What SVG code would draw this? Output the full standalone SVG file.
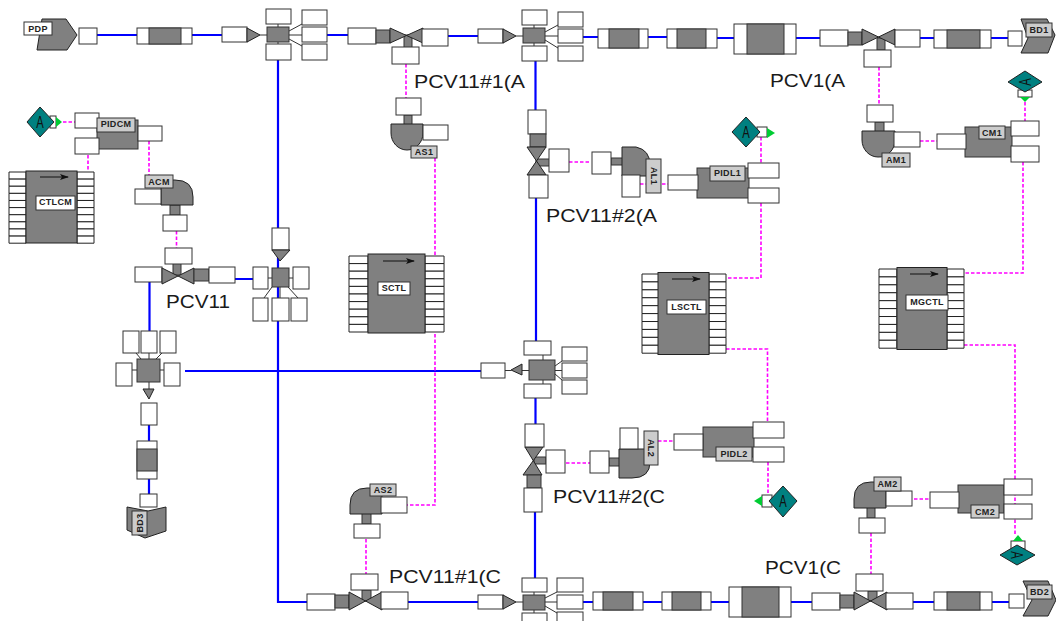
<svg xmlns="http://www.w3.org/2000/svg" xmlns:xlink="http://www.w3.org/1999/xlink" width="1056" height="621" viewBox="0 0 1056 621">
<style>
.w{fill:#fff;stroke:#333;stroke-width:1}
.g{fill:#808080;stroke:#333;stroke-width:1}
.d{fill:#808080;stroke:#222;stroke-width:1}
.l{fill:#ccc;stroke:#333;stroke-width:1}
.p{fill:#fff;stroke:#222;stroke-width:1;vector-effect:non-scaling-stroke}
.b{fill:none;stroke:#0000ff;stroke-width:2.200}
.m{fill:none;stroke:#ff00ff;stroke-width:1.600;stroke-dasharray:3.5 2}
.k{fill:none;stroke:#333;stroke-width:1}
.t{font:bold 9px "Liberation Sans",Arial,sans-serif;letter-spacing:.3px;fill:#222;text-anchor:middle}
.n{font:19px "Liberation Sans",Arial,sans-serif;fill:#1a1a1a}
.a{font:15px "Liberation Sans",Arial,sans-serif;fill:#111;text-anchor:middle}
.dm{fill:#008080;stroke:#222;stroke-width:1}
.gr{fill:#00cc33;stroke:none}
.ar{fill:none;stroke:#111;stroke-width:1}
</style>
<defs>
<g id="pins">
<rect class="p" x="0" y="0" width="17" height="8"/><rect class="p" x="0" y="8" width="17" height="8"/><rect class="p" x="0" y="16" width="17" height="8"/><rect class="p" x="0" y="24" width="17" height="8"/><rect class="p" x="0" y="32" width="17" height="8"/><rect class="p" x="0" y="40" width="17" height="8"/><rect class="p" x="0" y="48" width="17" height="8"/><rect class="p" x="0" y="56" width="17" height="8"/><rect class="p" x="0" y="64" width="17" height="8"/><rect class="p" x="0" y="72" width="17" height="8"/>
</g>
<marker id="ah" markerWidth="9" markerHeight="6" refX="8" refY="3" orient="auto" markerUnits="userSpaceOnUse"><path d="M0,0 L9,3 L0,6 L2,3Z" fill="#111"/></marker>
</defs>

<g id="connectors">
<path class="b" d="M97,35H137M192,35H222M327,35H349M448,36H478M583,37H598M648,37H667M717,38H734M796,38H820M920,38H934M991,38H1008"/>
<path class="b" d="M278,60V602H307M408,602H478M583,602H593M643,602H662M711,602H729M791,602H812M913,602H934M992,602H1009"/>
<path class="b" d="M535.500,61V110M536,198V341M535.500,398V424M535,512V578"/>
<path class="b" d="M185,371H481M235,279H253M149.500,282V331M149,425V441M149,479V494"/>
<path class="m" d="M406,64V98M435,158V505H407M366,539V574M879,67V105M920,141H937M569,162H591M640,184H668M658,441H674M566,463H590M761,137V163M761,203V278H726M726,349H767.500V422M768,462V494M1025,102V121M1023,162V273H964M964,345H1015V535M914,499H930M871,533V574M176.500,231V248M149,141V175M88,155V171M63,122H75"/>
</g>

<g id="PDP">
<polygon class="d" points="42,19 66,19 77,35 67,50 37,50"/>
<rect class="l" x="24" y="22" width="28" height="13" style="fill:#fff"/><text class="t" x="38" y="31.500">PDP</text>
<rect class="w" x="79" y="28" width="18" height="16"/>
</g>
<g id="pipe-t1"><rect class="w" x="137" y="28" width="55" height="16"/><rect class="g" x="149" y="28" width="32" height="16"/></g>
<g id="hub-t1">
<path class="k" d="M278,24V44M289,31L302,24M260,35H302M289,39L302,46"/>
<rect class="w" x="222" y="27" width="25" height="15"/><polygon class="d" points="247,28 260,35 247,42"/>
<rect class="g" x="267" y="27" width="22" height="15"/>
<rect class="w" x="266" y="9" width="25" height="15"/><rect class="w" x="266" y="44" width="25" height="16"/>
<rect class="w" x="302" y="10" width="25" height="15"/><rect class="w" x="302" y="27" width="25" height="15"/><rect class="w" x="302" y="44" width="25" height="16"/>
</g>
<g id="valve-pcv11-1a">
<rect class="w" x="348" y="28" width="28" height="16"/><rect class="g" x="376" y="30" width="14" height="13"/>
<rect class="g" x="404" y="35" width="8" height="13"/>
<polygon class="d" points="390,28 423,43 423,28 390,43"/>
<rect class="w" x="392" y="47" width="27" height="17"/><rect class="w" x="422" y="29" width="26" height="17"/>
<text class="n" x="414" y="88" textLength="111" lengthAdjust="spacingAndGlyphs">PCV11#1(A</text>
</g>
<g id="hub-t2">
<path class="k" d="M534,25V46M545,32L558,25M516,36H558M545,40L558,48"/>
<rect class="w" x="478" y="29" width="25" height="14"/><polygon class="d" points="503,29 516,36 503,43"/>
<rect class="g" x="523" y="28" width="22" height="15"/>
<rect class="w" x="522" y="10" width="25" height="15"/><rect class="w" x="522" y="46" width="25" height="15"/>
<rect class="w" x="558" y="12" width="25" height="15"/><rect class="w" x="558" y="29" width="25" height="14"/><rect class="w" x="558" y="46" width="25" height="15"/>
</g>
<g id="pipe-t2"><rect class="w" x="598" y="29" width="50" height="19"/><rect class="g" x="609" y="29" width="30" height="19"/></g>
<g id="pipe-t3"><rect class="w" x="667" y="29" width="50" height="19"/><rect class="g" x="677" y="29" width="29" height="19"/></g>
<g id="pipe-t4"><rect class="w" x="734" y="24" width="62" height="30"/><rect class="g" x="747" y="24" width="37" height="30"/></g>
<g id="valve-pcv1a">
<rect class="w" x="820" y="30" width="28" height="16"/><rect class="g" x="848" y="32" width="14" height="13"/>
<rect class="g" x="877" y="38" width="8" height="12"/>
<polygon class="d" points="862,29 895,45 895,29 862,45"/>
<rect class="w" x="864" y="50" width="27" height="17"/><rect class="w" x="895" y="30" width="25" height="17"/>
<text class="n" x="770" y="87" textLength="75" lengthAdjust="spacingAndGlyphs">PCV1(A</text>
</g>
<g id="pipe-t5"><rect class="w" x="934" y="30" width="57" height="18"/><rect class="g" x="947" y="30" width="33" height="18"/></g>
<g id="BD1">
<polygon class="d" points="1021,19 1047,19 1055,35 1048,53 1021,53 1028,38"/>
<rect class="w" x="1008" y="31" width="14" height="15"/>
<rect class="l" x="1026" y="23" width="26" height="14"/><text class="t" x="1039" y="32.500">BD1</text>
</g>

<g id="PIDCM">
<rect class="g" x="97" y="120" width="41" height="29"/>
<rect class="w" x="75" y="113" width="24" height="15"/><rect class="w" x="75" y="138" width="24" height="16"/><rect class="w" x="138" y="126" width="24" height="15"/>
<rect class="l" x="97" y="118" width="38" height="14"/><text class="t" x="116" y="126.500">PIDCM</text>
</g>
<g id="alarm-cm">
<rect class="w" x="50" y="116" width="6" height="12"/><polygon class="gr" points="56,117 56,127 62,122"/>
<polygon class="dm" points="40,107 54,122 40,137 27,122"/><text class="a" transform="translate(40,128) scale(.75,1.100)">A</text>
</g>
<g id="CTLCM">
<use xlink:href="#pins" href="#pins" transform="translate(9,172) scale(1,.89)"/><use xlink:href="#pins" href="#pins" transform="translate(77,172) scale(1,.89)"/>
<rect class="d" x="26" y="171" width="51" height="72"/>
<path class="ar" d="M40,177H68" marker-end="url(#ah)"/>
<rect class="w" x="36" y="196" width="39" height="14"/><text class="t" x="55.500" y="205">CTLCM</text>
</g>
<g id="ACM">
<rect class="g" x="170" y="205" width="10" height="10"/>
<path class="d" d="M161,205V180H175Q193,180 193,197V205Z"/>
<rect class="w" x="135" y="189" width="26" height="15"/><rect class="w" x="163" y="215" width="24" height="16"/>
<rect class="l" x="145" y="175" width="28" height="13"/><text class="t" x="159" y="184.500">ACM</text>
</g>
<g id="AS1">
<rect class="g" x="404" y="115" width="8" height="12"/>
<path class="d" d="M391,124H423V133A16,17 0 0 1 407,150A16,17 0 0 1 391,133Z"/>
<rect class="w" x="396" y="98" width="25" height="17"/><rect class="w" x="423" y="125" width="25" height="15"/>
<rect class="l" x="411" y="146" width="26" height="12"/><text class="t" x="424" y="155">AS1</text>
</g>
<g id="valve-pcv11-2a">
<rect class="w" x="528" y="110" width="18" height="24"/><rect class="g" x="530" y="134" width="16" height="13"/>
<rect class="g" x="536" y="159" width="14" height="7"/>
<polygon class="d" points="527,147 546,147 527,175 546,175"/>
<rect class="w" x="529" y="175" width="19" height="23"/><rect class="w" x="549" y="149" width="20" height="23"/>
<text class="n" x="546" y="222" textLength="111" lengthAdjust="spacingAndGlyphs">PCV11#2(A</text>
</g>
<g id="AL1">
<rect class="g" x="611" y="158" width="13" height="7"/>
<path class="d" d="M622,147H636Q650,150 650,165V176H622Z"/>
<rect class="w" x="592" y="152" width="19" height="22"/><rect class="w" x="622" y="175" width="18" height="22"/>
<rect class="l" x="646" y="159" width="15" height="34"/><text class="t" transform="translate(650.500,176) rotate(90)">AL1</text>
</g>
<g id="PIDL1">
<rect class="g" x="697" y="168" width="52" height="30"/>
<rect class="w" x="668" y="175" width="30" height="15"/>
<rect class="w" x="748" y="163" width="31" height="15"/><rect class="w" x="748" y="188" width="31" height="15"/>
<rect class="l" x="710" y="166" width="35" height="15"/><text class="t" x="727.500" y="175.500">PIDL1</text>
</g>
<g id="alarm-l1">
<rect class="w" x="757" y="127" width="10" height="10"/><polygon class="gr" points="767,128 767,138 775,133"/>
<polygon class="dm" points="746,117 760,132 746,147 732,132"/><text class="a" transform="translate(746,138) scale(.75,1.100)">A</text>
</g>
<g id="AM1">
<rect class="g" x="875" y="122" width="9" height="12"/>
<path class="d" d="M862,131H895V140A16,17 0 0 1 878,157A16,17 0 0 1 862,140Z"/>
<rect class="w" x="867" y="105" width="26" height="17"/><rect class="w" x="894" y="132" width="26" height="15"/>
<rect class="l" x="882" y="153" width="28" height="14"/><text class="t" x="896" y="163">AM1</text>
</g>
<g id="CM1">
<rect class="g" x="965" y="127" width="47" height="30"/>
<rect class="w" x="937" y="134" width="29" height="15"/>
<rect class="w" x="1011" y="121" width="28" height="15"/><rect class="w" x="1011" y="146" width="28" height="16"/>
<rect class="l" x="979" y="126" width="26" height="13"/><text class="t" x="992" y="135.500">CM1</text>
</g>
<g id="alarm-c1">
<rect class="w" x="1018" y="90" width="14" height="7"/><polygon class="gr" points="1020,97 1030,97 1025,102"/>
<polygon class="dm" points="1025,71 1042,82 1025,92 1008,82"/><text class="a" transform="translate(1031,82) rotate(-90) scale(.75,1.100)">A</text>
</g>

<g id="valve-pcv11">
<rect class="w" x="135" y="267" width="27" height="15"/>
<rect class="g" x="173" y="262" width="8" height="13"/>
<polygon class="d" points="162,268 194,284 194,268 162,284"/>
<rect class="g" x="194" y="269" width="15" height="12"/><rect class="w" x="209" y="267" width="26" height="16"/>
<rect class="w" x="165" y="248" width="27" height="16"/>
<text class="n" x="166" y="308" textLength="64" lengthAdjust="spacingAndGlyphs">PCV11</text>
</g>
<g id="hub-c">
<path class="k" d="M268,278H293M272,287L264,298M280,287V298M288,287L298,298"/>
<rect class="w" x="272" y="228" width="17" height="22"/><polygon class="d" points="272,250 290,250 280,261"/>
<rect class="g" x="272" y="268" width="17" height="19"/>
<rect class="w" x="253" y="267" width="15" height="22"/><rect class="w" x="293" y="267" width="16" height="22"/>
<rect class="w" x="253" y="298" width="15" height="23"/><rect class="w" x="272" y="298" width="17" height="23"/><rect class="w" x="291" y="298" width="16" height="23"/>
</g>
<g id="hub-l">
<path class="k" d="M132,370H164M149,382V389M141,359L136,353M149,359V353M156,359L162,353"/>
<rect class="w" x="123" y="331" width="16" height="22"/><rect class="w" x="141" y="331" width="16" height="22"/><rect class="w" x="160" y="331" width="16" height="22"/>
<rect class="g" x="137" y="359" width="23" height="23"/>
<rect class="w" x="116" y="363" width="16" height="23"/><rect class="w" x="164" y="363" width="16" height="23"/>
<polygon class="d" points="143,389 154,389 149,399"/>
<rect class="w" x="141" y="403" width="16" height="22"/>
</g>
<g id="pipe-l"><rect class="w" x="137" y="441" width="20" height="38"/><rect class="g" x="137" y="449" width="20" height="22"/></g>
<g id="BD3">
<polygon class="d" points="127,507 148,511 166,507 166,531 145,538 127,530"/>
<rect class="w" x="140" y="494" width="17" height="13"/>
<rect class="l" x="132" y="511" width="15" height="24"/><text class="t" transform="translate(139.500,523) rotate(-90) translate(0,3)">BD3</text>
</g>
<g id="SCTL">
<use xlink:href="#pins" href="#pins" transform="translate(349,256) scale(1.120,.95)"/><use xlink:href="#pins" href="#pins" transform="translate(425,256) scale(1.120,.95)"/>
<rect class="d" x="368" y="254" width="57" height="79"/>
<path class="ar" d="M383,261H414" marker-end="url(#ah)"/>
<rect class="w" x="378" y="282" width="32" height="13"/><text class="t" x="394" y="291">SCTL</text>
</g>
<g id="hub-m">
<path class="k" d="M505,370.500H511M522,370.500H562M543,355V384M555,366L562,361M555,374L562,380"/>
<rect class="w" x="481" y="363" width="24" height="15"/><polygon class="d" points="511,370 522,364 522,375"/>
<rect class="g" x="529" y="360" width="26" height="20"/>
<rect class="w" x="524" y="341" width="27" height="14"/><rect class="w" x="524" y="384" width="27" height="14"/>
<rect class="w" x="562" y="347" width="25" height="14"/><rect class="w" x="562" y="363" width="25" height="15"/><rect class="w" x="562" y="380" width="25" height="14"/>
</g>
<g id="LSCTL">
<use xlink:href="#pins" href="#pins" transform="translate(642,274)  scale(1,.99)"/><use xlink:href="#pins" href="#pins" transform="translate(709,274) scale(1,.99)"/>
<rect class="d" x="658" y="272.500" width="51" height="82"/>
<path class="ar" d="M672,279H700" marker-end="url(#ah)"/>
<rect class="w" x="667" y="300" width="39" height="14"/><text class="t" x="686.500" y="309.500">LSCTL</text>
</g>
<g id="MGCTL">
<use xlink:href="#pins" href="#pins" transform="translate(879,269) scale(1.050,.99)"/><use xlink:href="#pins" href="#pins" transform="translate(947,269) scale(1,.99)"/>
<rect class="d" x="897" y="267.500" width="50" height="82"/>
<path class="ar" d="M910,274H938" marker-end="url(#ah)"/>
<rect class="w" x="906" y="295" width="42" height="15"/><text class="t" x="927" y="304.500">MGCTL</text>
</g>

<g id="valve-pcv11-2c">
<rect class="g" x="534" y="457" width="12" height="7"/>
<polygon class="d" points="525,447 543,447 523,475 542,475"/>
<rect class="w" x="525" y="424" width="19" height="23"/>
<rect class="g" x="527" y="475" width="14" height="13"/><rect class="w" x="524" y="488" width="18" height="24"/>
<rect class="w" x="546" y="450" width="19" height="23"/>
<text class="n" x="553" y="503" textLength="112" lengthAdjust="spacingAndGlyphs">PCV11#2(C</text>
</g>
<g id="AL2">
<rect class="g" x="609" y="458" width="13" height="8"/>
<path class="d" d="M619,449H650V462Q650,478 632,478H619Z"/>
<rect class="w" x="590" y="451" width="19" height="22"/><rect class="w" x="620" y="428" width="18" height="21"/>
<rect class="l" x="644" y="431" width="14" height="34"/><text class="t" transform="translate(648,448) rotate(90)">AL2</text>
</g>
<g id="PIDL2">
<rect class="g" x="703" y="427" width="51" height="30"/>
<rect class="w" x="674" y="434" width="29" height="16"/>
<rect class="w" x="753" y="422" width="31" height="16"/><rect class="w" x="753" y="447" width="31" height="15"/>
<rect class="l" x="716" y="447" width="36" height="14"/><text class="t" x="734" y="456.500">PIDL2</text>
</g>
<g id="alarm-l2">
<rect class="w" x="762" y="495" width="10" height="12"/><polygon class="gr" points="762,496 762,506 754,501"/>
<polygon class="dm" points="783,486 797,501 783,517 769,501"/><text class="a" transform="translate(783,507) scale(.75,1.100)">A</text>
</g>
<g id="AS2">
<rect class="g" x="362" y="512" width="9" height="12"/>
<path class="d" d="M350,514V505Q350,488 367,488H382V514Z"/>
<rect class="w" x="381" y="497" width="26" height="16"/><rect class="w" x="354" y="524" width="26" height="14"/>
<rect class="l" x="370" y="484" width="26" height="12"/><text class="t" x="383" y="493">AS2</text>
</g>
<g id="AM2">
<rect class="g" x="867" y="506" width="8" height="12"/>
<path class="d" d="M854,508V499Q854,482 871,482H886V508Z"/>
<rect class="w" x="886" y="491" width="26" height="15"/><rect class="w" x="859" y="518" width="26" height="15"/>
<rect class="l" x="874" y="477" width="27" height="14"/><text class="t" x="887.500" y="487">AM2</text>
</g>
<g id="CM2">
<rect class="g" x="958" y="485" width="46" height="28"/>
<rect class="w" x="930" y="492" width="29" height="16"/>
<rect class="w" x="1004" y="479" width="28" height="16"/><rect class="w" x="1004" y="504" width="28" height="15"/>
<rect class="l" x="971" y="505" width="28" height="13"/><text class="t" x="985" y="514.500">CM2</text>
</g>
<g id="alarm-c2">
<rect class="w" x="1011" y="541" width="14" height="8"/><polygon class="gr" points="1013,541 1023,541 1018,535"/>
<polygon class="dm" points="1017,545 1035,555 1017,565 1000,555"/><text class="a" transform="translate(1011,555) rotate(90) scale(.75,1.100)">A</text>
</g>

<g id="valve-pcv11-1c">
<rect class="w" x="307" y="594" width="28" height="16"/><rect class="g" x="335" y="595" width="14" height="13"/>
<rect class="g" x="362" y="590" width="9" height="11"/>
<polygon class="d" points="349,592 382,610 382,592 349,610"/>
<rect class="w" x="351" y="574" width="27" height="16"/><rect class="w" x="381" y="592" width="27" height="17"/>
<text class="n" x="389" y="583" textLength="112" lengthAdjust="spacingAndGlyphs">PCV11#1(C</text>
</g>
<g id="hub-b">
<path class="k" d="M534,592V613M545,598L557,592M516,602H557M545,606L557,613"/>
<rect class="w" x="478" y="595" width="25" height="14"/><polygon class="d" points="503,595 516,602 503,609"/>
<rect class="g" x="523" y="595" width="22" height="15"/>
<rect class="w" x="522" y="578" width="25" height="14"/><rect class="w" x="522" y="613" width="25" height="14"/>
<rect class="w" x="557" y="578" width="26" height="14"/><rect class="w" x="557" y="595" width="26" height="14"/><rect class="w" x="557" y="612" width="26" height="15"/>
</g>
<g id="pipe-b1"><rect class="w" x="593" y="592" width="50" height="18"/><rect class="g" x="603" y="592" width="30" height="18"/></g>
<g id="pipe-b2"><rect class="w" x="662" y="592" width="49" height="18"/><rect class="g" x="672" y="592" width="29" height="18"/></g>
<g id="pipe-b3"><rect class="w" x="729" y="587" width="62" height="30"/><rect class="g" x="742" y="587" width="37" height="30"/></g>
<g id="valve-pcv1c">
<rect class="w" x="812" y="593" width="28" height="17"/><rect class="g" x="840" y="595" width="14" height="13"/>
<rect class="g" x="868" y="591" width="9" height="10"/>
<polygon class="d" points="854,592 887,610 887,592 854,610"/>
<rect class="w" x="856" y="574" width="27" height="17"/><rect class="w" x="886" y="593" width="27" height="16"/>
<text class="n" x="765" y="574" textLength="76" lengthAdjust="spacingAndGlyphs">PCV1(C</text>
</g>
<g id="pipe-b4"><rect class="w" x="934" y="592" width="58" height="18"/><rect class="g" x="947" y="592" width="33" height="18"/></g>
<g id="BD2">
<polygon class="d" points="1023,581 1048,581 1056,600 1048,616 1023,616 1032,600"/>
<rect class="w" x="1009" y="594" width="15" height="14"/>
<rect class="l" x="1027" y="585" width="25" height="14"/><text class="t" x="1039.500" y="594.500">BD2</text>
</g>
</svg>
